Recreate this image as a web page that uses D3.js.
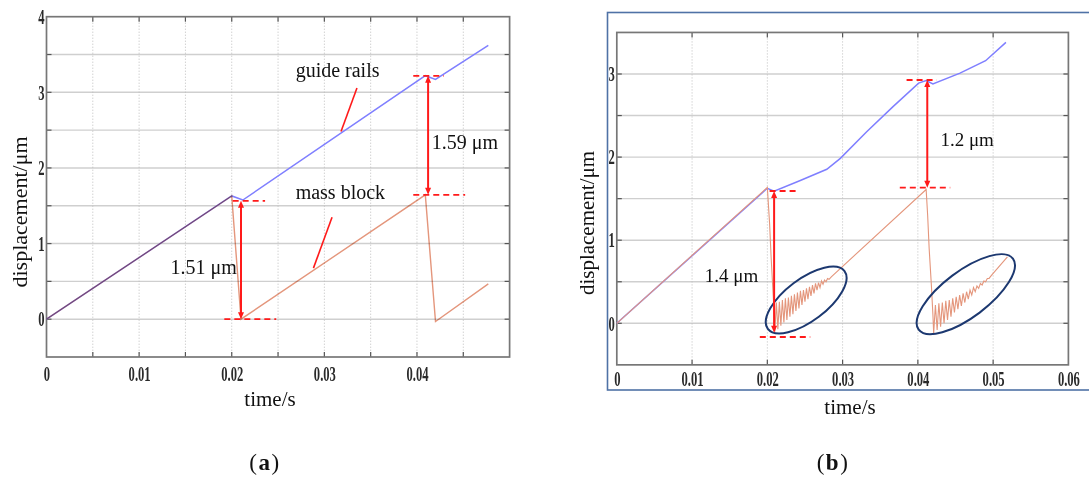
<!DOCTYPE html>
<html>
<head>
<meta charset="utf-8">
<script src="https://cdn.jsdelivr.net/npm/d3@7"></script>
<style>
  body { margin: 0; background: #fff; }
  svg { display: block; }
</style>
</head>
<body>
<div id="chart"></div>
<script>
// ---------- panel (a) data ----------
const aTickX = [0, 0.01, 0.02, 0.03, 0.04];
const aTickY = [0, 1, 2, 3, 4];
const aGridX = [0.005, 0.01, 0.015, 0.02, 0.025, 0.03, 0.035, 0.04, 0.045];
const aGridY = [0, 0.5, 1, 1.5, 2, 2.5, 3, 3.5];
const aGuide = [[0, 0], [0.02, 1.63], [0.0212, 1.576], [0.0409, 3.22], [0.042, 3.17], [0.0477, 3.62]];
const aMass = [[0, 0], [0.02, 1.63], [0.021, 0], [0.0409, 1.644], [0.042, -0.03], [0.0477, 0.467]];
// dashes: [t1, t2, v]; arrows: [t, v1, v2]; labels: [text, t, v]; pointers: [t1, v1, t2, v2]
const aDashes = [[0.0201, 0.0236, 1.565], [0.0192, 0.0248, 0], [0.0396, 0.0429, 3.218], [0.0396, 0.0452, 1.644]];
const aArrows = [[0.0210, 1.565, 0], [0.0412, 3.218, 1.644]];
const aLabels = [["1.51 μm", 0.0134, 0.593], ["1.59 μm", 0.0416, 2.246], ["guide rails", 0.0269, 3.205], ["mass block", 0.0269, 1.59]];
const aPointers = [[0.03352, 3.056, 0.0318, 2.481], [0.03083, 1.349, 0.02882, 0.675]];

// ---------- panel (b) data ----------
const bTickX = [0, 0.01, 0.02, 0.03, 0.04, 0.05, 0.06];
const bTickY = [0, 1, 2, 3];
const bGridX = [0.01, 0.02, 0.03, 0.04, 0.05];
const bGridY = [0, 0.5, 1, 1.5, 2, 2.5, 3];
const bGuide = [[0, 0], [0.02, 1.625], [0.0209, 1.59], [0.0243, 1.716], [0.0279, 1.853], [0.0297, 1.985],
  [0.0332, 2.306], [0.0367, 2.607], [0.0401, 2.89], [0.0411, 2.92], [0.042, 2.88], [0.0456, 3.01],
  [0.049, 3.16], [0.0517, 3.38]];
const bMass = [[0, 0], [0.02, 1.635], [0.0203, 1.2], [0.0205, 0.8], [0.0208, 0.3],
  [0.0210, -0.10], [0.0212, 0.25], [0.0214, -0.07], [0.0216, 0.26], [0.0218, -0.03], [0.0220, 0.28],
  [0.0222, 0.01], [0.0224, 0.30], [0.0226, 0.04], [0.0228, 0.31], [0.0230, 0.08], [0.0232, 0.33],
  [0.0234, 0.11], [0.0236, 0.35], [0.0238, 0.15], [0.0240, 0.37], [0.0242, 0.18], [0.0244, 0.39],
  [0.0246, 0.22], [0.0248, 0.40], [0.0250, 0.26], [0.0252, 0.42], [0.0254, 0.29], [0.0256, 0.44],
  [0.0258, 0.33], [0.0260, 0.46], [0.0262, 0.36], [0.0264, 0.48], [0.0266, 0.40], [0.0268, 0.49],
  [0.0270, 0.43], [0.0272, 0.51], [0.0274, 0.47], [0.0276, 0.52], [0.0278, 0.50], [0.0280, 0.54],
  [0.0282, 0.53], [0.0285, 0.56],
  [0.0411, 1.61], [0.0413, 1.30], [0.0415, 0.90], [0.0418, 0.45], [0.0420, 0.10],
  [0.04210, -0.12], [0.04233, 0.22], [0.04256, -0.08], [0.04279, 0.24], [0.04302, -0.04], [0.04325, 0.25],
  [0.04348, 0.00], [0.04371, 0.27], [0.04394, 0.04], [0.04417, 0.28], [0.04440, 0.08], [0.04463, 0.30],
  [0.04486, 0.13], [0.04509, 0.32], [0.04532, 0.17], [0.04555, 0.34], [0.04578, 0.21], [0.04601, 0.36],
  [0.04624, 0.25], [0.04647, 0.38], [0.04670, 0.29], [0.04693, 0.40], [0.04716, 0.34], [0.04739, 0.43],
  [0.04762, 0.38], [0.04785, 0.45], [0.04808, 0.42], [0.04831, 0.48], [0.04854, 0.46], [0.04877, 0.51],
  [0.04900, 0.50], [0.04923, 0.54], [0.04946, 0.54], [0.0498, 0.58], [0.0519, 0.80]];
const bDashes = [[0.0203, 0.0241, 1.592], [0.019, 0.0257, -0.165], [0.0385, 0.0425, 2.928], [0.0376, 0.0443, 1.632]];
const bArrows = [[0.0209, 1.592, -0.113], [0.04125, 2.928, 1.632]];
const bLabels = [["1.4 μm", 0.0117, 0.503], ["1.2 μm", 0.043, 2.128]];
const bEllipses = [[0.02516, 0.28], [0.04637, 0.35]];

const W = 1089, H = 479;
const serif = "'Liberation Serif', 'Times New Roman', serif";
const blue = "#7f7fff", salmon = "#e4967c", red = "#ff1a1a";

const svg = d3.select("#chart").append("svg")
  .attr("width", W).attr("height", H)
  .style("font-family", serif);

function drawPanel(p) {
  const x = d3.scaleLinear().domain(p.xDomain).range(p.xRange);
  const y = d3.scaleLinear().domain(p.yDomain).range(p.yRange);
  const g = svg.append("g");
  const left = p.xRange[0], right = p.xRange[1], top = p.yRange[1], bottom = p.yRange[0];

  // grid
  g.append("g").selectAll("line").data(p.gridY).enter().append("line")
    .attr("x1", left).attr("x2", right)
    .attr("y1", d => y(d)).attr("y2", d => y(d))
    .attr("stroke", "#cfcfcf").attr("stroke-width", 1.4);
  g.append("g").selectAll("line").data(p.gridX).enter().append("line")
    .attr("x1", d => x(d)).attr("x2", d => x(d))
    .attr("y1", top).attr("y2", bottom)
    .attr("stroke", "#bdbdbd").attr("stroke-width", 1).attr("stroke-dasharray", "1,2");

  // inward ticks (all four sides)
  const tk = g.append("g").attr("stroke", "#555").attr("stroke-width", 1.2);
  p.gridX.forEach(d => {
    tk.append("line").attr("x1", x(d)).attr("x2", x(d)).attr("y1", bottom).attr("y2", bottom - 5);
    tk.append("line").attr("x1", x(d)).attr("x2", x(d)).attr("y1", top).attr("y2", top + 5);
  });
  p.gridY.forEach(d => {
    tk.append("line").attr("x1", left).attr("x2", left + 5).attr("y1", y(d)).attr("y2", y(d));
    tk.append("line").attr("x1", right).attr("x2", right - 5).attr("y1", y(d)).attr("y2", y(d));
  });

  // frame
  g.append("rect").attr("x", left).attr("y", top)
    .attr("width", right - left).attr("height", bottom - top)
    .attr("fill", "none").attr("stroke", "#777").attr("stroke-width", 1.7);

  // tick labels
  const gx = g.append("g").attr("transform", `translate(0,${bottom})`)
    .call(d3.axisBottom(x).tickValues(p.tickX).tickSize(0).tickPadding(p.xPad)
      .tickFormat(d => d === 0 ? "0" : d.toFixed(2)));
  const gy = g.append("g").attr("transform", `translate(${left},0)`)
    .call(d3.axisLeft(y).tickValues(p.tickY).tickSize(0).tickPadding(0).tickFormat(d => d));
  [gx, gy].forEach(a => {
    a.select(".domain").remove();
    a.selectAll("text").attr("font-family", serif).attr("font-size", 21)
      .attr("font-weight", "bold").attr("fill", "#2a2a2a");
  });
  gx.selectAll("text").attr("transform", "scale(0.6,1)");
  gy.selectAll("text").attr("x", 0).attr("transform", "translate(-2,0) scale(0.6,1)");

  // series
  const line = d3.line().x(d => x(d[0])).y(d => y(d[1]));
  if (p.blend) {
    g.append("path").datum(p.guide).attr("d", line)
      .attr("fill", "none").attr("stroke", blue).attr("stroke-width", 1.5);
    g.append("path").datum(p.mass).attr("d", line)
      .attr("fill", "none").attr("stroke", salmon).attr("stroke-width", p.massWidth)
      .style("mix-blend-mode", "multiply");
  } else {
    g.append("path").datum(p.guide).attr("d", line)
      .attr("fill", "none").attr("stroke", blue).attr("stroke-width", 1.5);
    g.append("path").datum(p.mass).attr("d", line)
      .attr("fill", "none").attr("stroke", salmon).attr("stroke-width", p.massWidth);
  }

  // ellipses
  if (p.ellipses) {
    g.append("g").selectAll("ellipse").data(p.ellipses).enter().append("ellipse")
      .attr("transform", d => `translate(${x(d[0])},${y(d[1])}) rotate(-37)`)
      .attr("rx", (d, i) => i === 0 ? 48 : 59).attr("ry", (d, i) => i === 0 ? 21 : 23)
      .attr("fill", "none").attr("stroke", "#1c3870").attr("stroke-width", 2);
  }

  // red dashed levels
  g.append("g").selectAll("line").data(p.dashes).enter().append("line")
    .attr("x1", d => x(d[0])).attr("x2", d => x(d[1]))
    .attr("y1", d => y(d[2])).attr("y2", d => y(d[2]))
    .attr("stroke", red).attr("stroke-width", 1.8).attr("stroke-dasharray", "6,4");

  // double arrows
  p.arrows.forEach(a => {
    const ax = x(a[0]), y1 = y(a[1]), y2 = y(a[2]);
    g.append("line").attr("x1", ax).attr("x2", ax).attr("y1", y1 + 4).attr("y2", y2 - 4)
      .attr("stroke", red).attr("stroke-width", 2);
    g.append("path").attr("d", `M${ax},${y1} L${ax - 3},${y1 + 7} L${ax + 3},${y1 + 7} Z`).attr("fill", red);
    g.append("path").attr("d", `M${ax},${y2} L${ax - 3},${y2 - 7} L${ax + 3},${y2 - 7} Z`).attr("fill", red);
  });

  if (p.pointers) {
    g.append("g").selectAll("line").data(p.pointers).enter().append("line")
      .attr("x1", d => x(d[0])).attr("y1", d => y(d[1]))
      .attr("x2", d => x(d[2])).attr("y2", d => y(d[3]))
      .attr("stroke", red).attr("stroke-width", 1.6);
  }

  g.append("g").selectAll("text").data(p.labels).enter().append("text")
    .attr("x", d => x(d[1])).attr("y", d => y(d[2]))
    .attr("font-size", p.labelSize).attr("fill", "#111")
    .text(d => d[0]);

  // axis titles
  g.append("text").attr("x", p.xTitle[0]).attr("y", p.xTitle[1])
    .attr("text-anchor", "middle").attr("font-size", 21).attr("fill", "#111").text("time/s");
  g.append("text").attr("transform", `translate(${p.yTitle[0]},${p.yTitle[1]}) rotate(-90)`)
    .attr("text-anchor", "middle").attr("font-size", p.yTitleSize).attr("fill", "#111").text("displacement/μm");

  // panel caption
  const cap = g.append("text").attr("x", p.caption[0]).attr("y", p.caption[1])
    .attr("text-anchor", "middle").attr("font-size", 23).attr("letter-spacing", 1.5).attr("fill", "#111");
  cap.append("tspan").text("(");
  cap.append("tspan").attr("font-weight", "bold").text(p.captionLetter);
  cap.append("tspan").text(")");
}

// blue outer frame of panel (b)
svg.append("rect").attr("x", 607.5).attr("y", 12.5).attr("width", 500).attr("height", 377.5)
  .attr("fill", "none").attr("stroke", "#4f72a6").attr("stroke-width", 1.6);

drawPanel({
  xDomain: [0, 0.05], xRange: [46.5, 509.6],
  yDomain: [-0.5, 4], yRange: [357, 16.7],
  tickX: aTickX, tickY: aTickY, gridX: aGridX, gridY: aGridY,
  xPad: 9, guide: aGuide, mass: aMass, massWidth: 1.4, blend: true,
  dashes: aDashes, arrows: aArrows, labels: aLabels, pointers: aPointers,
  labelSize: 20, xTitle: [270, 406], yTitle: [27, 212], yTitleSize: 22,
  caption: [265, 470], captionLetter: "a"
});

drawPanel({
  xDomain: [0, 0.06], xRange: [616.8, 1068.4],
  yDomain: [-0.5, 3.5], yRange: [364.85, 32.45],
  tickX: bTickX, tickY: bTickY, gridX: bGridX, gridY: bGridY,
  xPad: 6, guide: bGuide, mass: bMass, massWidth: 1.1, blend: false,
  dashes: bDashes, arrows: bArrows, labels: bLabels, ellipses: bEllipses,
  labelSize: 19, xTitle: [850, 414], yTitle: [594, 223], yTitleSize: 21,
  caption: [833, 470], captionLetter: "b"
});
</script>
</body>
</html>
